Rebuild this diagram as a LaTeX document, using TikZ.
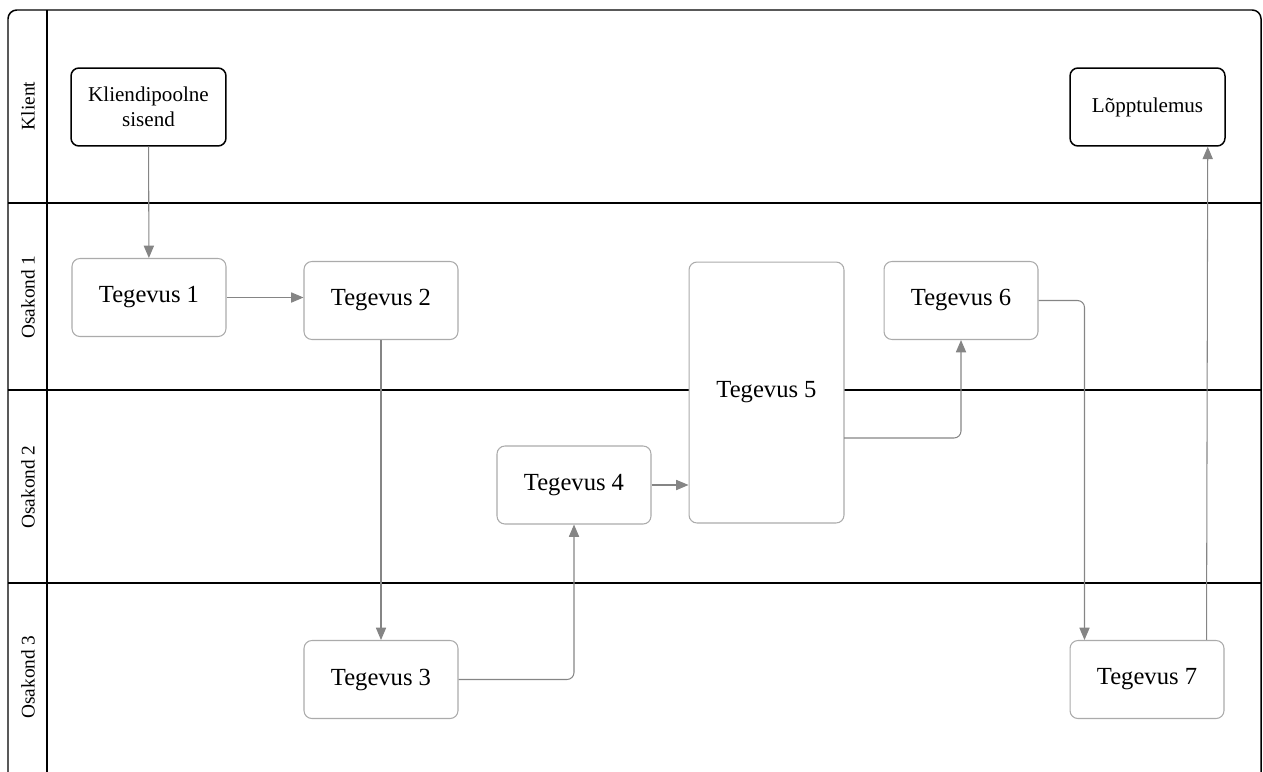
\documentclass[tikz,border=0pt]{standalone}
\usepackage{fontspec}
\setmainfont{Liberation Serif}
\usetikzlibrary{arrows.meta}
\definecolor{flowgray}{HTML}{858585}
\definecolor{boxgray}{HTML}{ABABAB}
\tikzset{
  lane/.style={line width=0.85pt, black},
  lanetext/.style={rotate=90, font=\fontsize{11}{13}\selectfont},
  endbox/.style={draw=black, line width=0.85pt, rounded corners=4.5pt, fill=white,
    minimum width=3.1cm, minimum height=1.56cm, align=center, font=\fontsize{12}{14}\selectfont},
  taskbox/.style={draw=boxgray, line width=0.6pt, rounded corners=4.5pt, fill=white,
    minimum width=3.08cm, minimum height=1.56cm, font=\fontsize{14}{16}\selectfont},
  flow/.style={draw=flowgray, line width=0.6pt, rounded corners=4pt,
    -{Triangle[length=7pt,width=5.8pt]}, flowgray}
}

\begin{document}
\begin{tikzpicture}[x=0.02cm, y=-0.02cm]
			%%%%% START %%%%%
			\useasboundingbox (0, 0) rectangle (1263, 771);
			\clip (0, 0) rectangle (1263, 771);
			
			% pool and lanes
			\draw[lane, rounded corners=5pt] (8, 800) -- (8, 10) -- (1261, 10) -- (1261, 800);
			\draw[lane] (47, 10) -- (47, 800);
			\draw[lane] (8, 203) -- (1261, 203);
			\draw[lane] (8, 390) -- (1261, 390);
			\draw[lane] (8, 583) -- (1261, 583);
			
			\node[lanetext] (lklient) at (28, 106) {Klient};
			\node[lanetext] (los1) at (28, 297) {Osakond 1};
			\node[lanetext] (los2) at (28, 487) {Osakond 2};
			\node[lanetext] (los3) at (28, 677) {Osakond 3};
			
			% boxes
			\node[endbox] (sisend) at (148.5, 107) {Kliendipoolne\\sisend};
			\node[endbox] (tulemus) at (1147.5, 107) {Lõpptulemus};
			
			\node[taskbox] (t1) at (149, 297.5) {Tegevus 1};
			\node[taskbox] (t2) at (381, 300.5) {Tegevus 2};
			\node[taskbox] (t3) at (381, 679.5) {Tegevus 3};
			\node[taskbox] (t4) at (574, 485) {Tegevus 4};
			\node[taskbox, minimum width=3.1cm, minimum height=5.22cm] (t5) at (766.5, 392.5) {Tegevus 5};
			\node[taskbox] (t6) at (961, 300.5) {Tegevus 6};
			\node[taskbox] (t7) at (1147, 679.5) {Tegevus 7};
			
			% flows
			\coordinate (t5out) at (844, 438);
			\draw[flow] (sisend) -- (t1);
			\draw[flow] (t1.east) -- (t1.east -| t2.west);
			\draw[flow] (t2) -- (t3);
			\draw[flow] (t3.east) -| (t4.south);
			\draw[flow] (t4.east) -- (t4.east -| t5.west);
			\draw[flow] (t5out) -| (t6.south);
			\draw[flow] (t6.east) -| ([xshift=0.3cm]t7.north west);
			\draw[flow] ([xshift=-0.36cm]t7.north east) -- ([xshift=-0.36cm]tulemus.south east);
			%%%%% END %%%%%
\end{tikzpicture}
\end{document}
